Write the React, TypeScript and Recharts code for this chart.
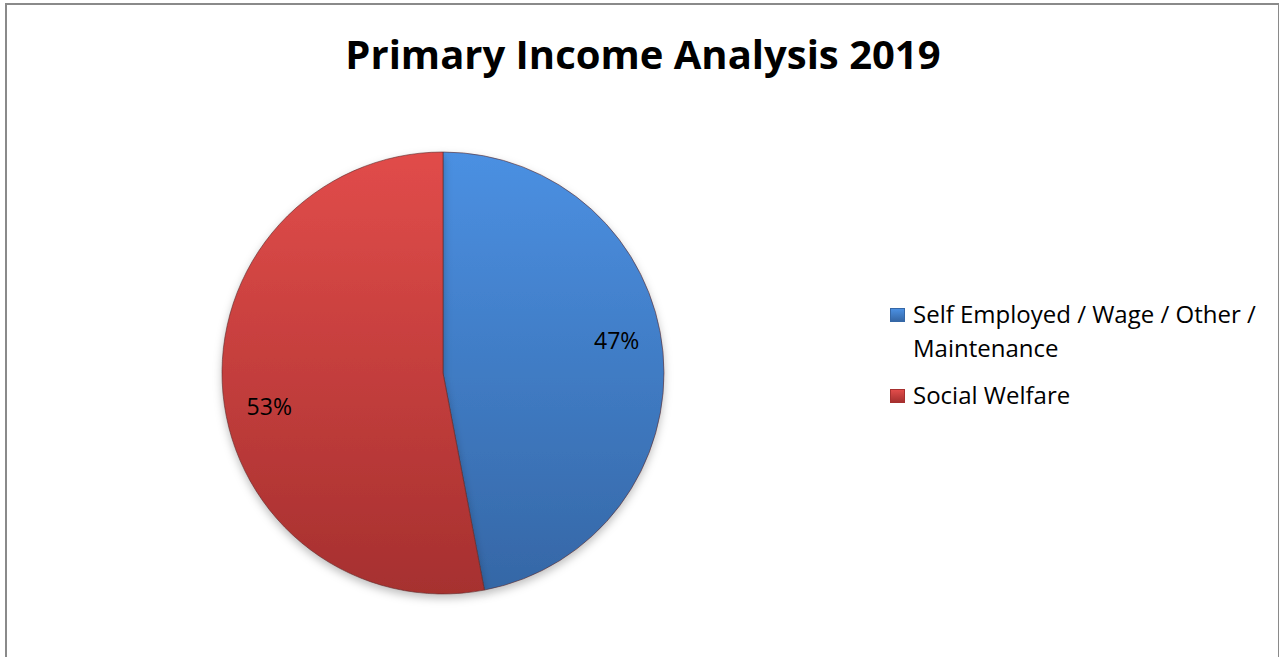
import React from 'react';
import { PieChart, Pie, Cell, Legend } from 'recharts';

// values
const categories = ['Self Employed / Wage / Other / Maintenance', 'Social Welfare'];
const shares = [47, 53];
const gradients = [
  { id: 'gradBlue', top: '#4b90e2', bottom: '#3567a6' },
  { id: 'gradRed', top: '#e14c4a', bottom: '#a6302f' },
];

const data = categories.map((name, i) => ({ name, value: shares[i] }));
const total = shares.reduce((a, b) => a + b, 0);

const FONT = '"Open Sans", Lato, sans-serif';
const RADIAN = Math.PI / 180;

const renderLabel = ({ cx, cy, midAngle, outerRadius, index }: any) => {
  const r = outerRadius * 0.8;
  const a = (midAngle + 5.3) * RADIAN;
  const x = cx + r * Math.cos(a);
  const y = cy - r * Math.sin(a);
  return (
    <text
      x={x}
      y={y}
      textAnchor="middle"
      dominantBaseline="central"
      fill="#000"
      fontFamily={FONT}
      fontSize={23}
    >
      {`${Math.round((shares[index] / total) * 100)}%`}
    </text>
  );
};

const LegendBox = () => (
  <div style={{ fontFamily: FONT, fontSize: 24, color: '#000', lineHeight: '34px' }}>
    {categories.map((c, i) => (
      <div key={c} style={{ display: 'flex', alignItems: 'flex-start', marginBottom: 13, width: 375 }}>
        <span
          style={{
            display: 'inline-block',
            width: 13,
            height: 12,
            marginTop: 11,
            marginRight: 8,
            flex: 'none',
            background: `linear-gradient(${gradients[i].top}, ${gradients[i].bottom})`,
            border: `1px solid ${gradients[i].bottom}`,
          }}
        />
        <span>{c}</span>
      </div>
    ))}
  </div>
);

export default function App() {
  return (
    <div style={{ position: 'absolute', left: 0, top: 0, width: 1279, height: 657, background: '#fff', overflow: 'hidden' }}>
      <div
        style={{
          position: 'absolute',
          left: 5,
          top: 3,
          width: 1271,
          height: 720,
          border: '2px solid #8a8a8a',
        }}
      />
      <div
        style={{
          position: 'absolute',
          left: 0,
          top: 29,
          width: 1286,
          textAlign: 'center',
          fontFamily: FONT,
          fontWeight: 'bold',
          fontSize: 40,
          lineHeight: '50px',
          color: '#000',
        }}
      >
        Primary Income Analysis 2019
      </div>
      <div style={{ position: 'absolute', left: 0, top: 0 }}>
        <PieChart width={1279} height={657} margin={{ top: 0, right: 0, bottom: 0, left: 0 }}>
          <defs>
            {gradients.map((g) => (
              <linearGradient key={g.id} id={g.id} x1="0" y1="0" x2="0" y2="1">
                <stop offset="0%" stopColor={g.top} />
                <stop offset="100%" stopColor={g.bottom} />
              </linearGradient>
            ))}
            <filter id="pieShadow" x="-10%" y="-10%" width="120%" height="125%">
              <feDropShadow dx="0" dy="4" stdDeviation="4" floodColor="#000" floodOpacity="0.25" />
            </filter>
          </defs>
          <Pie
            data={data}
            dataKey="value"
            nameKey="name"
            cx={443}
            cy={373}
            outerRadius={221}
            startAngle={90}
            endAngle={-270}
            stroke="#5a2a2a"
            strokeWidth={0.6}
            labelLine={false}
            label={renderLabel}
            isAnimationActive={false}
            style={{ filter: 'url(#pieShadow)' }}
          >
            {data.map((d, i) => (
              <Cell key={d.name} fill={`url(#${gradients[i].id})`} />
            ))}
          </Pie>
          <Legend
            layout="vertical"
            content={() => <LegendBox />}
            wrapperStyle={{ position: 'absolute', left: 890, top: 297, width: 385 }}
          />
        </PieChart>
      </div>
    </div>
  );
}
